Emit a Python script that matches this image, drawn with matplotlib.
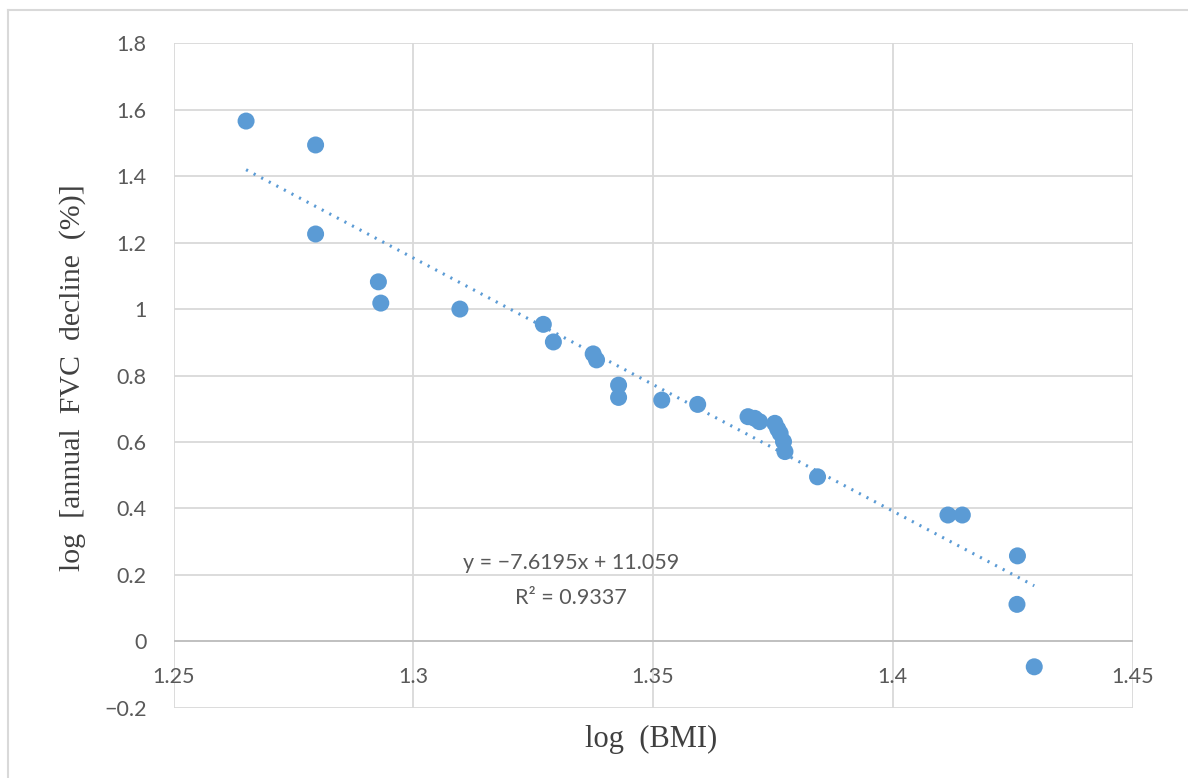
import matplotlib.pyplot as plt
import matplotlib.lines as mlines
import numpy as np

# DATA:
log_bmi = [1.2651, 1.2796, 1.2796, 1.2927, 1.2932, 1.3097, 1.3271, 1.3292,
           1.3375, 1.3382, 1.3428, 1.3428, 1.3518, 1.3593,
           1.3698, 1.3712, 1.3722, 1.3754, 1.3760, 1.3765, 1.3772, 1.3775,
           1.3843, 1.4115, 1.4145, 1.4260, 1.4259, 1.4295]
log_fvc = [1.566, 1.494, 1.226, 1.082, 1.018, 1.000, 0.954, 0.901,
           0.865, 0.847, 0.771, 0.734, 0.726, 0.713,
           0.676, 0.671, 0.661, 0.656, 0.639, 0.626, 0.601, 0.571,
           0.495, 0.380, 0.380, 0.257, 0.111, -0.077]
slope = -7.6195
intercept = 11.059
r2 = 0.9337
xticks = [1.25, 1.3, 1.35, 1.4, 1.45]
xtick_labels = ['1.25', '1.3', '1.35', '1.4', '1.45']
yticks = [-0.2, 0, 0.2, 0.4, 0.6, 0.8, 1.0, 1.2, 1.4, 1.6, 1.8]
ytick_labels = ['\u22120.2', '0', '0.2', '0.4', '0.6', '0.8', '1', '1.2', '1.4', '1.6', '1.8']

blue = '#5B9BD5'
grid_c = '#D9D9D9'
txt_c = '#595959'
fs = 15.5

fig = plt.figure(figsize=(11.88, 7.78), dpi=100)
ax = fig.add_axes([0.1462, 0.0904, 0.8071, 0.8539])

# chart border (top and left only, screenshot is cropped)
fig.add_artist(mlines.Line2D([8 / 1188, 8 / 1188], [0, 1 - 10 / 778], transform=fig.transFigure,
                             color='#D9D9D9', lw=1.5))
fig.add_artist(mlines.Line2D([8 / 1188, 1], [1 - 10 / 778, 1 - 10 / 778], transform=fig.transFigure,
                             color='#D9D9D9', lw=1.5))

ax.set_xlim(1.25, 1.45)
ax.set_ylim(-0.2, 1.8)
for v in xticks:
    ax.axvline(v, color=grid_c, lw=1.3, zorder=0)
for v in yticks:
    ax.axhline(v, color=grid_c, lw=1.3, zorder=0)
ax.axhline(0, color='#BFBFBF', lw=1.3, zorder=0.5)
for s in ax.spines.values():
    s.set_visible(False)

ax.set_yticks(yticks)
ax.set_yticklabels(ytick_labels, fontsize=fs, color=txt_c, family='Lato')
ax.tick_params(axis='y', length=0, pad=19.5)
ax.set_xticks([])
for v, lab in zip(xticks, xtick_labels):
    ax.text(v, -0.108, lab, ha='center', va='center', fontsize=fs, color=txt_c, family='Lato')

# trendline
xs = np.array([min(log_bmi), max(log_bmi)])
ax.plot(xs, slope * xs + intercept, color=blue, lw=2.2, linestyle=(0, (0.7, 2.1)), zorder=2)

ax.scatter(log_bmi, log_fvc, s=150, color=blue, edgecolors='none', zorder=3)

ax.text(1.3328, 0.236, 'y = \u22127.6195x + 11.059', ha='center', va='center',
        fontsize=fs, color=txt_c, family='Lato')
ax.text(1.3328, 0.131, 'R\u00b2 = 0.9337', ha='center', va='center',
        fontsize=fs, color=txt_c, family='Lato')

fig.text(651 / 1188, 1 - 739 / 778, 'log  (BMI)', ha='center', va='center',
         fontsize=22, color='#404040', family='Liberation Serif')
fig.text(73 / 1188, 1 - 378 / 778, 'log  [annual  FVC  decline  (%)]', ha='center', va='center',
         rotation=90, fontsize=21.5, color='#404040', family='Liberation Serif')

fig.savefig('out.png', dpi=100)
